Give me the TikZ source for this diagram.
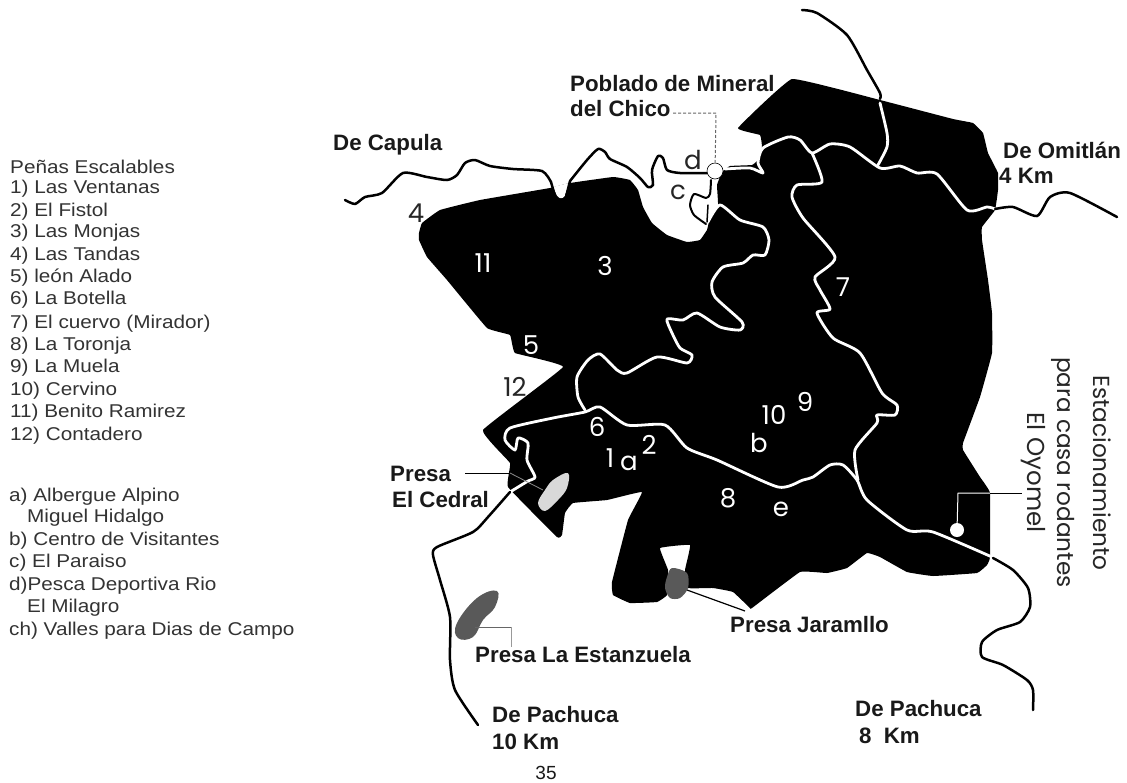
\documentclass[tikz,border=0pt]{standalone}
\usepackage{fontspec}
\setmainfont{Liberation Sans}
\newfontfamily\legfont{Liberation Sans}[FakeStretch=1.12]
\newfontfamily\mapfont{Poppins}
\tikzset{
  legtext/.style={anchor=west,inner sep=0pt,text=black!80,font=\legfont\fontsize{18.5}{20}\selectfont},
  boldtext/.style={anchor=west,inner sep=0pt,text=black!90,font=\bfseries\fontsize{22.3}{24}\selectfont},
  maptext/.style={inner sep=0pt,font=\mapfont\fontsize{26}{28}\selectfont},
  whitetext/.style={maptext,text=white},
  blacktext/.style={maptext,text=black!85},
  sidetext/.style={anchor=west,rotate=-90,inner sep=0pt,text=black!85,font=\mapfont\fontsize{23.2}{26}\selectfont},
  whiteroad/.style={draw=white,line width=2.8pt,line cap=round,line join=round},
  blackroad/.style={draw=black,line width=2.5pt,line cap=round,line join=round},
  leader/.style={draw=black!60,line width=1pt},
}
\begin{document}
\begin{tikzpicture}[x=1pt,y=-1pt]
\useasboundingbox (0,0) rectangle (1127,782);
\fill[white] (0,0) rectangle (1127,782);
% mountain region
\fill[black] plot[smooth cycle,tension=.15] coordinates {
 (792,79)(880,100)(953,119)(973,123)(983,133)(988,153)(998,173)(998,190)(995,210)(982,227)(982,240)
 (988,280)(992,313)(992,353)(980,397)(963,443)(963,450)(980,477)(990,493)(990,557)(987,565)
 (977,573)(933,576)(907,572)(880,557)(867,553)(847,568)(827,573)(800,572)(752,608)(750,608)
 (733,592)(713,588)(688,588)(685,570)(690,545)(660,548)(668,570)(667,595)(657,602)(630,603)(613,595)
 (612,582)(628,520)(642,492)(607,500)(573,503)(565,513)(562,535)(557,537)(508,487)(510,463)
 (483,430)(563,367)(515,353)(510,335)(487,328)(447,280)(427,257)(419,240)(419,233)(422,223)
 (440,210)(480,200)(550,188)(570,183)(613,177)(630,180)(638,190)(643,207)(652,223)(667,235)
 (687,242)(700,240)(707,230)(709,222)(718,205)(717,185)(722,172)(730,166)(752,165)(758,160)(762,147)(760,135)(738,128)
};
% reservoirs
\fill[black!15] plot[smooth cycle,tension=.6] coordinates {(538,503)(545,490)(553,480)(568,473)(567,488)(558,500)(545,511)};
\fill[black!65] plot[smooth cycle,tension=.5] coordinates {(667,577)(672,568)(687,573)(688,588)(680,598)(670,598)(665,588)};
\fill[black!65] plot[smooth cycle,tension=.7] coordinates {(457,623)(477,598)(497,591)(495,607)(483,620)(473,637)(458,638)};
% white roads
\draw[whiteroad] plot[smooth,tension=.4] coordinates {
 (510,492)(528,481)(535,477)(527,460)(528,443)(518,438)(515,450)(505,440)(510,428)(553,418)(585,412)(600,407)
 (627,425)(665,425)(687,448)(717,460)(778,487)(803,480)(813,477)(830,465)(843,465)(857,480)(867,500)(907,530)(933,532)(992,557)};
\draw[whiteroad] plot[smooth,tension=.4] coordinates {
 (585,410)(578,397)(577,377)(588,360)(600,354)(617,370)(627,373)(657,357)(687,363)(692,355)(680,348)(672,333)(667,319)
 (683,320)(697,313)(720,327)(740,330)(742,322)(715,297)(712,282)(723,267)(743,263)(753,255)(765,255)(769,240)(763,227)(740,220)(720,205)(708,222)};
\draw[whiteroad] plot[smooth,tension=.4] coordinates {
 (858,480)(855,450)(877,423)(877,415)(895,415)(897,405)(882,393)(860,353)(833,338)(817,313)(830,309)(820,290)(815,277)(835,257)(803,218)(792,197)(797,185)(822,182)(812,153)};
\draw[whiteroad] plot[smooth,tension=.4] coordinates {
 (725,169)(750,168)(763,173)(758,163)(763,148)(788,137)(800,140)(812,153)(830,144)(850,147)(880,168)(900,166)(917,173)(937,174)(967,210)(987,207)(995,209)};
\draw[whiteroad] plot[smooth,tension=.4] coordinates {(880,103)(887,133)(887,147)(878,165)};
\draw[whiteroad,line width=3.5pt] (713,180) -- (715,197) -- (711,207);
% black roads
\fill[white] (553,187) -- (569,183) -- (564,198) -- (558,198) -- cycle;
\draw[blackroad] plot[smooth,tension=.4] coordinates {
 (345,200)(355,204)(365,197)(382,193)(403,173)(427,177)(447,180)(457,175)(465,163)(475,160)(490,166)(513,169)(542,171)(551,182)};
\draw[blackroad,draw=black] (551,182) -- (555,196) -- (561,201) -- (566,197) -- (570,181);
\draw[blackroad] plot[smooth,tension=.4] coordinates {
 (570,181)(587,160)(598,149)(605,152)(610,159)(627,167)(640,178)(648,187)(653,185)(652,170)(658,156)(663,158)(667,170)(680,173)(707,173)};
\draw[blackroad,line width=2pt] plot[smooth,tension=.4] coordinates {(711,180)(710,194)(706,198)(694,194)(690,205)(694,215)(706,224)};
\draw[blackroad,line width=1.5pt] (708,205) -- (707,222);
\draw[blackroad] plot[smooth,tension=.4] coordinates {(510,492)(488,517)(473,532)(437,547)(433,555)(440,580)(450,617)(450,660)(455,690)(478,725)};
\draw[blackroad] plot[smooth,tension=.4] coordinates {(802,10)(817,13)(847,35)(867,70)(880,93)(880,99)};
\draw[blackroad] plot[smooth,tension=.4] coordinates {(995,209)(1013,207)(1037,216)(1050,197)(1070,193)(1117,217)};
\draw[blackroad] plot[smooth,tension=.4] coordinates {(993,558)(1013,570)(1028,588)(1030,607)(1020,622)(997,630)(982,642)(982,657)(1003,665)(1027,680)(1033,690)(1033,710)};
% points
\coordinate (pobA) at (673,113);
\coordinate (pobB) at (716,113);
\node[circle,fill=white,draw=black,line width=.6pt,minimum size=16pt,inner sep=0pt] (pob) at (715,171) {};
\draw[leader,densely dashed] (pobA) -- (pobB) -- (pob);
\node[circle,fill=white,minimum size=14pt,inner sep=0pt] (oyo) at (957,530) {};
\coordinate (oyoA) at (958,493);
\coordinate (oyoB) at (990,493);
\coordinate (oyoC) at (1022,493);
\draw[white,line width=1pt] (oyo) -- (oyoA) -- (oyoB);
\draw[black,line width=1pt] (oyoB) -- (oyoC);
% leaders
\coordinate (cedA) at (465,473);
\coordinate (cedB) at (510,473);
\coordinate (cedC) at (543,490);
\draw[black,line width=.8pt] (cedA) -- (cedB);
\draw[black!45,line width=.8pt] (cedB) -- (cedC);
\coordinate (jarA) at (687,590);
\coordinate (jarB) at (745,611);
\draw[black,line width=1.2pt] (jarA) -- (jarB);
\coordinate (estA) at (475,627);
\coordinate (estB) at (511,627);
\coordinate (estC) at (511,647);
\draw[leader] (estA) -- (estB);
\draw[black!40,line width=1pt] (estB) -- (estC);
% map labels
\node[whitetext] (n11) at (483,263) {11};
\node[whitetext] (n3) at (605,266) {3};
\node[blacktext] (n4) at (416,213) {4};
\node[blacktext] (nd) at (693,160) {d};
\node[blacktext] (nc) at (678,192) {c};
\node[whitetext] (n7) at (843,287) {7};
\node[whitetext] (n5) at (531,345) {5};
\node[blacktext] (n12) at (515,387) {12};
\node[whitetext] (n6) at (597,427) {6};
\node[whitetext] (n1) at (610,458) {1};
\node[whitetext] (na) at (629,463) {a};
\node[whitetext] (n2) at (649,445) {2};
\node[whitetext] (n8) at (728,498) {8};
\node[whitetext] (ne) at (781,509) {e};
\node[whitetext] (n10) at (774,415) {10};
\node[whitetext] (n9) at (805,402) {9};
\node[whitetext] (nb) at (759,443) {b};
% bold labels
\node[boldtext] (l1) at (333,145) {De Capula};
\node[boldtext] (l2) at (570,84) {Poblado de Mineral};
\node[boldtext] (l3) at (570,109) {del Chico};
\node[boldtext] (l4) at (1003,150) {De Omitlán};
\node[boldtext] (l5) at (999,176) {4 Km};
\node[boldtext] (l6) at (390,474) {Presa};
\node[boldtext] (l7) at (392,500) {El Cedral};
\node[boldtext] (l8) at (730,625) {Presa Jaramllo};
\node[boldtext] (l9) at (475,655) {Presa La Estanzuela};
\node[boldtext] (l10) at (492,715) {De Pachuca};
\node[boldtext] (l11) at (492,742) {10 Km};
\node[boldtext] (l12) at (855,709) {De Pachuca};
\node[boldtext] (l13) at (859,736) {8\hspace{6pt} Km};
\node[inner sep=0pt,font=\fontsize{19}{20}\selectfont,text=black!90] (pg) at (546,773) {35};
% side labels
\node[sidetext] (s1) at (1102,375) {Estacionamiento};
\node[sidetext] (s2) at (1063,357) {para casa rodantes};
\node[sidetext,font=\mapfont\fontsize{24.5}{26}\selectfont] (s3) at (1033,412) {El Oyomel};
% legend
\node[legtext] (a0) at (10,167) {Peñas Escalables};
\node[legtext] (a1) at (10,189) {1) Las Ventanas};
\node[legtext] (a2) at (10,212) {2) El Fistol};
\node[legtext] (a3) at (10,233) {3) Las Monjas};
\node[legtext] (a4) at (10,256) {4) Las Tandas};
\node[legtext] (a5) at (10,278) {5) león Alado};
\node[legtext] (a6) at (10,300) {6) La Botella};
\node[legtext] (a7) at (10,324) {7) El cuervo (Mirador)};
\node[legtext] (a8) at (10,346) {8) La Toronja};
\node[legtext] (a9) at (10,368) {9) La Muela};
\node[legtext] (a10) at (10,391) {10) Cervino};
\node[legtext] (a11) at (10,413) {11) Benito Ramirez};
\node[legtext] (a12) at (10,436) {12) Contadero};
\node[legtext] (b1) at (9,497) {a) Albergue Alpino};
\node[legtext] (b2) at (27,518) {Miguel Hidalgo};
\node[legtext] (b3) at (9,541) {b) Centro de Visitantes};
\node[legtext] (b4) at (9,563) {c) El Paraiso};
\node[legtext] (b5) at (9,586) {d)Pesca Deportiva Rio};
\node[legtext] (b6) at (27,608) {El Milagro};
\node[legtext] (b7) at (9,631) {ch) Valles para Dias de Campo};
\end{tikzpicture}
\end{document}
